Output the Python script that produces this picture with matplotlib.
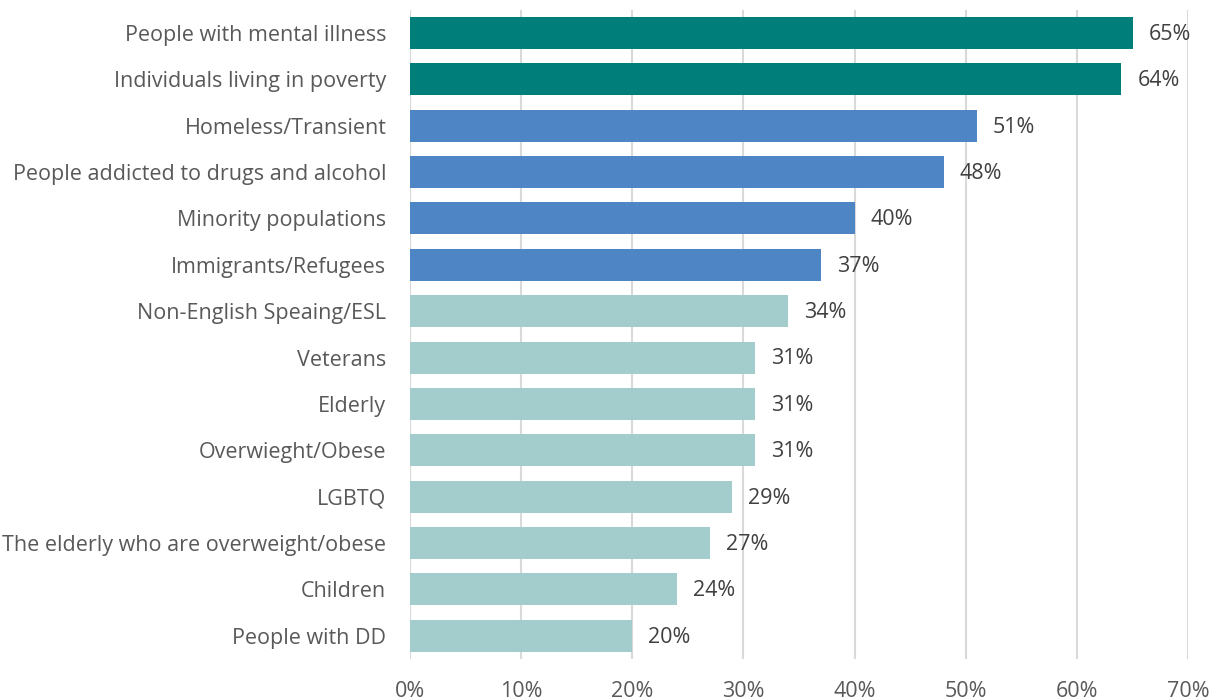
import matplotlib
matplotlib.use("Agg")
import matplotlib.pyplot as plt
from matplotlib.ticker import FuncFormatter

groups = ["People with mental illness", "Individuals living in poverty",
          "Homeless/Transient", "People addicted to drugs and alcohol",
          "Minority populations", "Immigrants/Refugees",
          "Non-English Speaing/ESL", "Veterans", "Elderly",
          "Overwieght/Obese", "LGBTQ",
          "The elderly who are overweight/obese", "Children",
          "People with DD"]
pct = [65, 64, 51, 48, 40, 37, 34, 31, 31, 31, 29, 27, 24, 20]
tier = [0, 0, 1, 1, 1, 1, 2, 2, 2, 2, 2, 2, 2, 2]
tier_colors = ["#007F7A", "#4E85C5", "#A3CDCC"]

plt.rcParams['font.family'] = ['Open Sans', 'DejaVu Sans']

fig = plt.figure(figsize=(12.14, 7), dpi=100)
ax = fig.add_axes([0.3377, 0.0586, 0.641, 0.9274])

ypos = list(range(len(groups)))
ax.barh(ypos, pct, height=0.69, color=[tier_colors[t] for t in tier], zorder=2)

for y, v in zip(ypos, pct):
    ax.text(v + 1.45, y + 0.03, f"{v}%", va="center", ha="left", fontsize=15.5, color="#404040")

ax.set_xlim(0, 70)
ax.set_ylim(len(groups) - 0.5, -0.5)
ax.set_xticks(range(0, 71, 10))
ax.xaxis.set_major_formatter(FuncFormatter(lambda v, _: f"{v:.0f}%"))
ax.set_yticks(ypos)
ax.set_yticklabels(groups)
ax.tick_params(axis="y", length=0, pad=17, labelsize=15.5, labelcolor="#595959")
ax.tick_params(axis="x", length=0, pad=16, labelsize=15.5, labelcolor="#595959")
ax.grid(axis="x", color="#D9D9D9", linewidth=1.5, zorder=0)
for s in ax.spines.values():
    s.set_visible(False)

fig.savefig("out.png", dpi=100)
